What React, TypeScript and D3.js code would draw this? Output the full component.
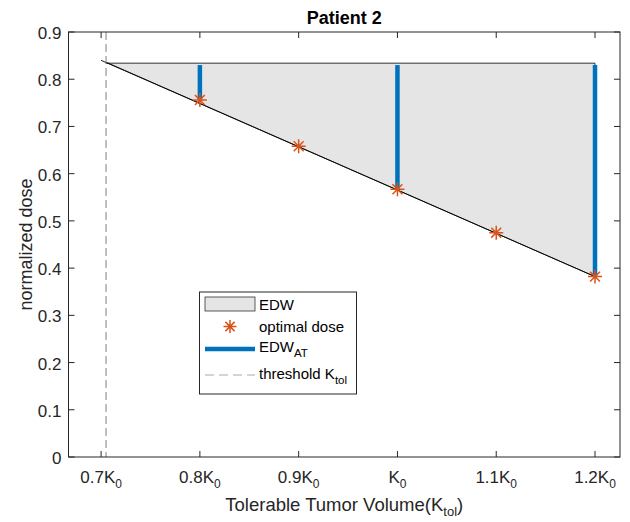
import React from "react";
import * as d3 from "d3";

const xTicks = [0.7, 0.8, 0.9, 1.0, 1.1, 1.2];
const xTickPrefix = ["0.7K", "0.8K", "0.9K", "K", "1.1K", "1.2K"];
const yTicks = [0, 0.1, 0.2, 0.3, 0.4, 0.5, 0.6, 0.7, 0.8, 0.9];
const yTickLabels = ["0", "0.1", "0.2", "0.3", "0.4", "0.5", "0.6", "0.7", "0.8", "0.9"];

const doseX = [0.8, 0.9, 1.0, 1.1, 1.2];
const doseY = [0.756, 0.658, 0.567, 0.475, 0.382];

const fitLineX = [0.7, 1.2];
const fitLineY = [0.84, 0.382];

const threshold = 0.705;
const edwTop = 0.834;
const edwX = [threshold, 1.2, 1.2, threshold];
const edwY = [edwTop, edwTop, 0.382, 0.836];

const atX = [0.8, 1.0, 1.2];
const atTop = [0.83, 0.83, 0.83];
const atBottom = [0.756, 0.567, 0.382];

const W = 630, H = 522;
const L = 68.5, R = 620, T = 32, B = 457;
const AX = "#262626";
const FONT = "'Liberation Sans', Arial, Helvetica, sans-serif";

function star(cx: number, cy: number, r: number) {
  const parts: string[] = [];
  for (let i = 0; i < 4; i++) {
    const a = (i * Math.PI) / 4;
    const dx = r * Math.cos(a), dy = r * Math.sin(a);
    parts.push(`M${cx - dx},${cy - dy}L${cx + dx},${cy + dy}`);
  }
  return parts.join("");
}

export default function App() {
  const x = d3.scaleLinear().domain([0.667, 1.2253]).range([L, R]);
  const y = d3.scaleLinear().domain([0, 0.9]).range([B, T]);
  const line = d3.line<[number, number]>().x(d => x(d[0])).y(d => y(d[1]));
  const poly = edwX.map((v, i) => [v, edwY[i]] as [number, number]);
  const fit = fitLineX.map((v, i) => [v, fitLineY[i]] as [number, number]);
  const tl = 6;

  return (
    <svg width={W} height={H} style={{ position: "absolute", left: 0, top: 0, background: "#fff" }} fontFamily={FONT}>
      <rect x={0} y={0} width={W} height={H} fill="#fff" />
      {/* EDW polygon */}
      <path d={line(poly)! + "Z"} fill="#e5e5e5" stroke="#000" strokeWidth={0.8} />
      {/* fit line */}
      <path d={line(fit)!} fill="none" stroke="#000" strokeWidth={0.9} />
      {/* threshold */}
      <line x1={x(threshold)} x2={x(threshold)} y1={T} y2={B} stroke="#808080" strokeWidth={1} strokeDasharray="8,4" />
      {/* EDW_AT bars */}
      {atX.map((v, i) => (
        <line key={i} x1={x(v)} x2={x(v)} y1={y(atTop[i])} y2={y(atBottom[i])} stroke="#0072BD" strokeWidth={4.5} />
      ))}
      {/* stars */}
      {doseX.map((v, i) => (
        <path key={i} d={star(x(v), y(doseY[i]), 7)} stroke="#D95319" strokeWidth={1.5} fill="none" />
      ))}
      {/* axes box */}
      <rect x={L} y={T} width={R - L} height={B - T} fill="none" stroke={AX} strokeWidth={1} />
      {xTicks.map((v, i) => (
        <g key={i}>
          <line x1={x(v)} x2={x(v)} y1={B} y2={B - tl} stroke={AX} />
          <line x1={x(v)} x2={x(v)} y1={T} y2={T + tl} stroke={AX} />
          <text x={x(v)} y={482.5} textAnchor="middle" fontSize={17} fill={AX}>
            {xTickPrefix[i]}
            <tspan fontSize={12} dy={5.5}>0</tspan>
          </text>
        </g>
      ))}
      {yTicks.map((v, i) => (
        <g key={i}>
          <line x1={L} x2={L + tl} y1={y(v)} y2={y(v)} stroke={AX} />
          <line x1={R} x2={R - tl} y1={y(v)} y2={y(v)} stroke={AX} />
          <text x={61.5} y={y(v) + 7} textAnchor="end" fontSize={17} fill={AX}>{yTickLabels[i]}</text>
        </g>
      ))}
      <text x={(L + R) / 2} y={24} textAnchor="middle" fontSize={18} fontWeight="bold" fill="#000">Patient 2</text>
      <text x={(L + R) / 2} y={510.5} textAnchor="middle" fontSize={18.5} fill={AX}>
        Tolerable Tumor Volume(K<tspan fontSize={13} dy={5.5}>tol</tspan><tspan dy={-5.5}>)</tspan>
      </text>
      <text transform={`translate(32,${(T + B) / 2}) rotate(-90)`} textAnchor="middle" fontSize={18} fill={AX}>normalized dose</text>
      {/* legend */}
      <rect x={199.5} y={292} width={157} height={102} fill="#fff" stroke={AX} strokeWidth={1} />
      <rect x={205} y={297} width={50} height={14} fill="#e5e5e5" stroke="#333" strokeWidth={0.8} />
      <text x={259} y={310} fontSize={15} fill="#000">EDW</text>
      <path d={star(230, 326.5, 6.5)} stroke="#D95319" strokeWidth={1.5} fill="none" />
      <text x={259} y={332} fontSize={15} fill="#000">optimal dose</text>
      <line x1={205} x2={255} y1={349} y2={349} stroke="#0072BD" strokeWidth={4.5} />
      <text x={259} y={352} fontSize={15} fill="#000">EDW<tspan fontSize={11.5} dy={5}>AT</tspan></text>
      <line x1={205} x2={255} y1={375} y2={375} stroke="#aaa" strokeWidth={1} strokeDasharray="9,5" />
      <text x={259} y={379} fontSize={15} fill="#000">threshold K<tspan fontSize={11.5} dy={5}>tol</tspan></text>
    </svg>
  );
}
